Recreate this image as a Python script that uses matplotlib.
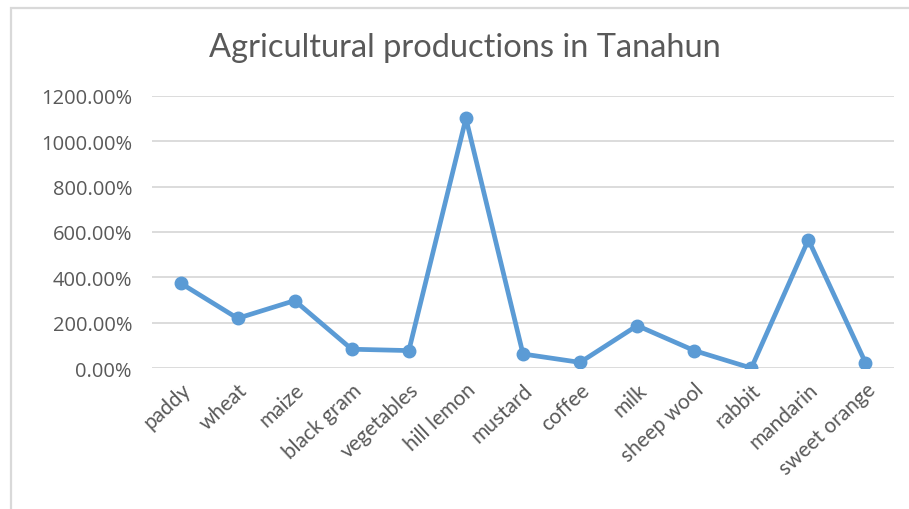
import matplotlib
matplotlib.use("Agg")
import matplotlib.pyplot as plt
import matplotlib.transforms as mtransforms
from matplotlib.patches import Rectangle
from matplotlib.ticker import FuncFormatter, MultipleLocator

categories = ["paddy", "wheat", "maize", "black gram", "vegetables", "hill lemon",
              "mustard", "coffee", "milk", "sheep wool", "rabbit", "mandarin",
              "sweet orange"]
values = [375, 220, 298, 84, 78, 1100, 63, 26, 188, 78, 1, 566, 25]
title = "Agricultural productions in Tanahun"

plt.rcParams['font.family'] = ['Lato', 'DejaVu Sans']

W, H = 909, 510
fig = plt.figure(figsize=(W / 100, H / 100), dpi=100)
fig.patch.set_facecolor("white")

# outer chart frame (cropped on right and bottom)
fig.patches.append(Rectangle((11 / W, -0.1), 1.2, 1 - 9 / H + 0.1,
                             transform=fig.transFigure, fill=False,
                             edgecolor="#D9D9D9", linewidth=1.6))

left, right = 152 / W, 894 / W
bottom, top = 1 - 369.3 / H, 1 - 96.7 / H
ax = fig.add_axes([left, bottom, right - left, top - bottom])

x = list(range(len(categories)))
ax.plot(x, values, color="#5B9BD5", linewidth=3.4, marker="o",
        markersize=9, solid_capstyle="round", zorder=3)

ax.set_xlim(-0.5, len(categories) - 0.5)
ax.set_ylim(0, 1200)
ax.yaxis.set_major_locator(MultipleLocator(200))
ax.yaxis.set_major_formatter(FuncFormatter(lambda v, p: f"{v:.2f}%"))
ax.set_xticks(x)
ax.set_xticklabels(categories, rotation=43, ha="right", rotation_mode="anchor",
                   fontsize=15, color="#595959")
offset = mtransforms.ScaledTranslation(-5 / 100, -5 / 100, fig.dpi_scale_trans)
for lab in ax.get_xticklabels():
    lab.set_transform(lab.get_transform() + offset)
for lab in ax.get_yticklabels():
    lab.set_fontsize(14.5)
    lab.set_color("#595959")
    lab.set_family(["Open Sans", "DejaVu Sans"])
ax.tick_params(axis="both", length=0)
ax.tick_params(axis="y", pad=14.4)
ax.tick_params(axis="x", pad=8)
ax.grid(axis="y", color="#D9D9D9", linewidth=1.3)
ax.set_axisbelow(True)
for s in ax.spines.values():
    s.set_visible(False)

fig.text(465 / W, 1 - 48 / H, title, ha="center", va="center",
         fontsize=23.5, color="#595959", fontweight="normal")

fig.savefig("out.png", dpi=100, facecolor="white")
